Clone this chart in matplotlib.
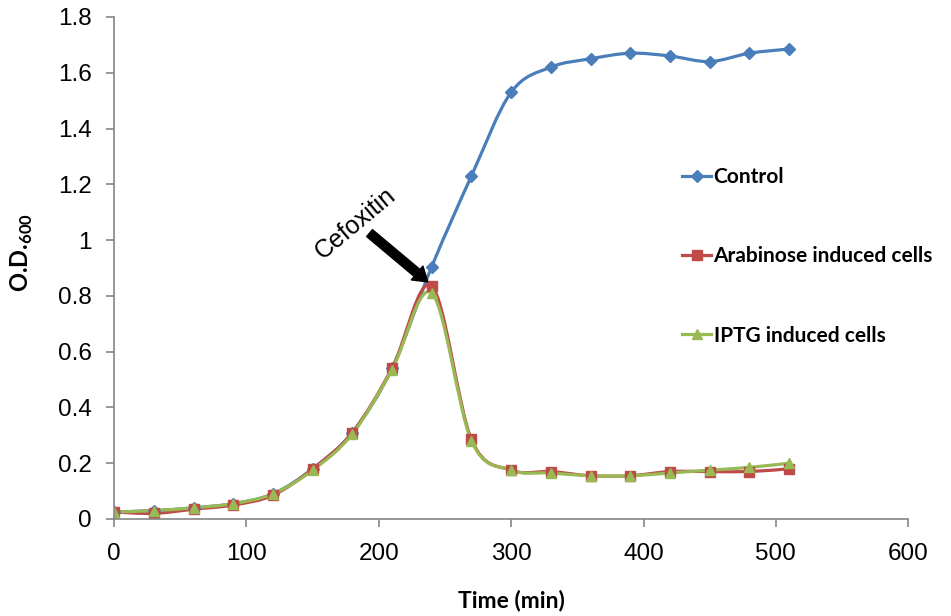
import matplotlib
matplotlib.use("Agg")
import matplotlib.pyplot as plt
import numpy as np
from matplotlib.path import Path
from matplotlib.patches import PathPatch
from matplotlib.lines import Line2D

#data
time_min = [0, 30, 60, 90, 120, 150, 180, 210, 240, 270, 300, 330, 360, 390, 420, 450, 480, 510]
control = [0.025, 0.03, 0.04, 0.055, 0.09, 0.18, 0.31, 0.54, 0.905, 1.23, 1.53, 1.62, 1.65, 1.67,
           1.66, 1.64, 1.67, 1.685]
arabinose = [0.025, 0.02, 0.035, 0.05, 0.085, 0.18, 0.31, 0.54, 0.835, 0.285, 0.175, 0.17, 0.155,
             0.155, 0.17, 0.17, 0.17, 0.18]
iptg = [0.025, 0.03, 0.04, 0.055, 0.09, 0.175, 0.305, 0.535, 0.81, 0.28, 0.175, 0.165, 0.155,
        0.155, 0.165, 0.175, 0.185, 0.2]
series_names = ["Control", "Arabinose induced cells", "IPTG induced cells"]

plt.rcParams['font.family'] = ['Liberation Sans', 'DejaVu Sans']
plt.rcParams['mathtext.fontset'] = 'custom'
plt.rcParams['mathtext.rm'] = 'Lato'
plt.rcParams['mathtext.bf'] = 'Lato:bold'


#smoothed line through the points (like excel's smoothed line)
def smooth_path(xs, ys):
    pts = np.column_stack([xs, ys]).astype(float)
    n = len(pts)
    verts = [pts[0]]
    codes = [Path.MOVETO]
    for i in range(n - 1):
        p0 = pts[max(i - 1, 0)]
        p1 = pts[i]
        p2 = pts[i + 1]
        p3 = pts[min(i + 2, n - 1)]
        c1 = p1 + (p2 - p0) / 6.0
        c2 = p2 - (p3 - p1) / 6.0
        verts += [c1, c2, p2]
        codes += [Path.CURVE4] * 3
    return Path(verts, codes)


fig = plt.figure(figsize=(9.51, 6.16), dpi=100)
ax = fig.add_axes([0.12, 0.1575, 0.835, 0.815])

styles = [
    (control, '#4a7ebb', 'D', 6),
    (arabinose, '#be4b48', 's', 7.5),
    (iptg, '#98b954', '^', 7),
]
handles = []
for (vals, col, mk, ms), name in zip(styles, series_names):
    patch = PathPatch(smooth_path(time_min, vals), fill=False, edgecolor=col, lw=2.3,
                      transform=ax.transData, capstyle='round', joinstyle='round')
    ax.add_patch(patch)
    ax.plot(time_min, vals, ls='none', marker=mk, ms=ms, color=col)
    handles.append(Line2D([], [], color=col, lw=2.3, marker=mk, ms=ms, label=name))

ax.set_xlim(0, 600)
ax.set_ylim(0, 1.8)
ax.set_xticks(np.arange(0, 601, 100))
ax.set_yticks(np.arange(0, 1.81, 0.2))
ax.set_yticklabels(['0', '0.2', '0.4', '0.6', '0.8', '1', '1.2', '1.4', '1.6', '1.8'])

for s in ['top', 'right']:
    ax.spines[s].set_visible(False)
for s in ['left', 'bottom']:
    ax.spines[s].set_color('#868686')
    ax.spines[s].set_linewidth(1.2)
ax.tick_params(labelsize=17.5, length=6, width=1.2, color='#868686', direction='out')
ax.tick_params(axis='y', pad=10)
ax.tick_params(axis='x', pad=11)

ax.set_xlabel('Time (min)', fontsize=16.5, fontweight='bold', family='Lato', labelpad=18)
ax.set_ylabel(r'O.D.$_{\mathbf{600}}$', fontsize=17, fontweight='bold', family='Lato')
ax.yaxis.set_label_coords(-0.1, 0.53)

#cefoxitin arrow
ax.annotate('', xy=(237, 0.85), xytext=(193, 1.025),
            arrowprops=dict(arrowstyle='simple,head_width=1.3,head_length=1.0,tail_width=0.65',
                            color='black', shrinkA=0, shrinkB=0))
ax.text(182, 1.06, 'Cefoxitin', rotation=40, fontsize=18, ha='center', va='center')

leg = ax.legend(handles=handles, loc='upper left', bbox_to_anchor=(0.705, 0.718), frameon=False,
                prop={'family': 'Lato', 'weight': 'bold', 'size': 15}, labelspacing=2.85,
                handlelength=1.4, handletextpad=0.1, borderaxespad=0)

fig.savefig('out.png', dpi=100)
